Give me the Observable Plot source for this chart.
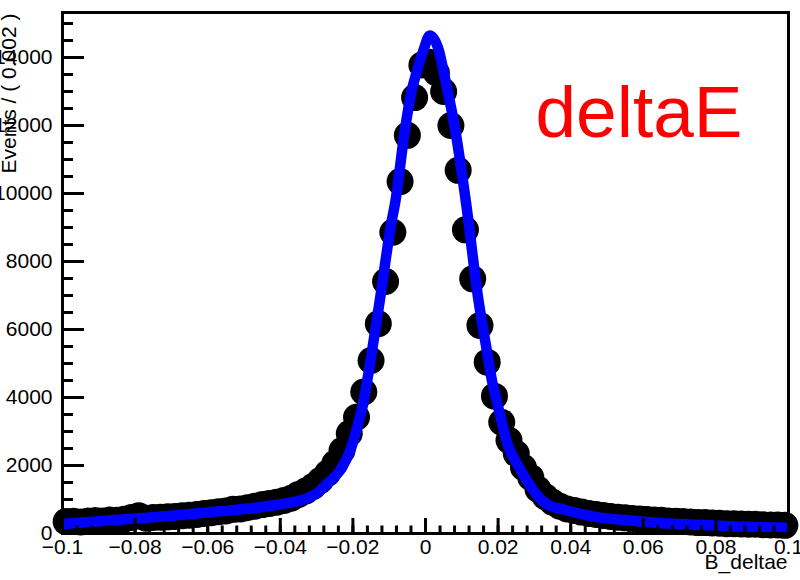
<!DOCTYPE html>
<html>
<head>
<meta charset="utf-8">
<script src="https://cdn.jsdelivr.net/npm/d3@7"></script>
<script src="https://cdn.jsdelivr.net/npm/@observablehq/plot@0.6"></script>
<style>
  html, body { margin: 0; padding: 0; background: #ffffff; overflow: hidden; }
  #chart svg { display: block; }
</style>
</head>
<body>
<div id="chart"></div>
<script>
// ---- data ----
const binLow = -0.1;
const binWidth = 0.002;
// events per bin, bins from -0.1 to 0.1 (100 bins of 0.002)
const counts = [
  350, 360, 340, 370, 380, 365, 400, 390, 420, 470,
  520, 450, 470, 480, 490, 500, 520, 540, 560, 590,
  610, 640, 660, 710, 720, 760, 800, 850, 880, 920,
  970, 1040, 1150, 1250, 1380,
  1560, 1770, 2060, 2440, 2940, 3420, 4160, 5090, 6170, 7410,
  8860, 10350, 11710, 12820, 13780,
  13860, 13550, 13000, 12000, 10680, 8930, 7490, 6120, 5040, 4040,
  3270, 2740, 2350, 1940, 1650,
  1300, 1080, 920, 800, 720, 680, 630, 590, 560, 530,
  500, 480, 460, 440, 430, 410, 400, 390, 370, 360,
  350, 340, 320, 320, 310, 300, 290, 290, 280, 270,
  270, 260, 250, 250, 240
];
// fitted curve (blue)
const fitX = [-0.1, -0.09, -0.08, -0.07, -0.06, -0.05, -0.0457, -0.0366, -0.0346, -0.0319,
  -0.0295, -0.0275, -0.0255, -0.0236, -0.0204, -0.0181, -0.0172, -0.0162, -0.0149, -0.0126,
  -0.0093, -0.0084, -0.0057, -0.0038, -0.0027, -0.0006, 0.0012, 0.0037, 0.0052, 0.0083,
  0.0112, 0.0146, 0.0169, 0.0183, 0.0196, 0.0229, 0.0255, 0.0279, 0.030, 0.032,
  0.034, 0.038, 0.0472, 0.0564, 0.0655, 0.0749, 0.084, 0.0931, 0.1];
const fitY = [280, 360, 440, 520, 620, 720, 774, 921, 971, 1068,
  1220, 1420, 1620, 1850, 2540, 3420, 3800, 4400, 5250, 6850,
  9200, 9700, 11850, 13030, 13470, 14200, 14650, 14200, 13470, 11800,
  9700, 6850, 5380, 4500, 3910, 2540, 2000, 1560, 1230, 980,
  830, 706, 480, 382, 303, 256, 210, 185, 170];

const xTicks = [-0.1, -0.08, -0.06, -0.04, -0.02, 0, 0.02, 0.04, 0.06, 0.08, 0.1];
const xTickLabels = ["\u22120.1", "\u22120.08", "\u22120.06", "\u22120.04", "\u22120.02", "0", "0.02", "0.04", "0.06", "0.08", "0.1"];
const yTicks = [0, 2000, 4000, 6000, 8000, 10000, 12000, 14000];
const yTickLabels = ["0", "2000", "4000", "6000", "8000", "10000", "12000", "14000"];
const xMinorStep = 0.004;
const yMinorStep = 500;

const xTitle = "B_deltae";
const yTitle = "Events / ( 0.002 )";
const plotLabel = "deltaE";

// ---- build tables ----
const hist = counts.map((c, i) => ({x: binLow + (i + 0.5) * binWidth, y: c}));
const fit = fitX.map((x, i) => ({x, y: fitY[i]}));
const xMinor = d3.range(-0.1, 0.1 + 1e-9, xMinorStep);
const yMinor = d3.range(0, 15000 + 1e-9, yMinorStep);

const W = 800, H = 580;
const mL = 62, mR = 12, mT = 12, mB = 47;
const innerW = W - mL - mR, innerH = H - mT - mB;
const font = "'Liberation Sans', Arial, Helvetica, sans-serif";

const chart = Plot.plot({
  width: W, height: H,
  marginLeft: mL, marginRight: mR, marginTop: mT, marginBottom: mB,
  x: {domain: [-0.1, 0.1], axis: null},
  y: {domain: [0, 15323], axis: null},
  style: {fontFamily: font, background: "#ffffff", overflow: "visible"},
  marks: [
    Plot.dot(hist, {x: "x", y: "y", r: 13.5, fill: "#000000", stroke: "none"}),
    Plot.line(fit, {x: "x", y: "y", stroke: "#0000ff", strokeWidth: 10.5, curve: "monotone-x", strokeLinecap: "butt"}),
    // x ticks (inside)
    Plot.tickX(xMinor, {x: d => d, insetTop: innerH - 7.5, stroke: "#000", strokeWidth: 3}),
    Plot.tickX(xTicks, {x: d => d, insetTop: innerH - 15, stroke: "#000", strokeWidth: 3}),
    // y ticks (inside)
    Plot.tickY(yMinor, {y: d => d, insetRight: innerW - 11, stroke: "#000", strokeWidth: 3}),
    Plot.tickY(yTicks, {y: d => d, insetRight: innerW - 22, stroke: "#000", strokeWidth: 3}),
    Plot.frame({stroke: "#000", strokeWidth: 3}),
    // tick labels
    Plot.text(xTicks, {x: d => d, text: (d, i) => xTickLabels[i], frameAnchor: "bottom", lineAnchor: "top", dy: 6, fontSize: 21, fill: "#000"}),
    Plot.text(yTicks, {y: d => d, text: (d, i) => yTickLabels[i], frameAnchor: "left", textAnchor: "end", dx: -10, fontSize: 21, fill: "#000"}),
    // axis titles
    Plot.text([xTitle], {text: d => d, frameAnchor: "bottom-right", textAnchor: "end", dx: -1, dy: 35, fontSize: 21, fill: "#000"}),
    Plot.text([yTitle], {text: d => d, frameAnchor: "top-left", rotate: -90, textAnchor: "end", dx: -61, dy: 1, fontSize: 21, fill: "#000"}),
    // label
    Plot.text([plotLabel], {text: d => d, frameAnchor: "top-left", textAnchor: "start", dx: 473, dy: 72.6, fontSize: 73, fill: "#ff0000"})
  ]
});
document.getElementById("chart").appendChild(chart);
</script>
</body>
</html>
